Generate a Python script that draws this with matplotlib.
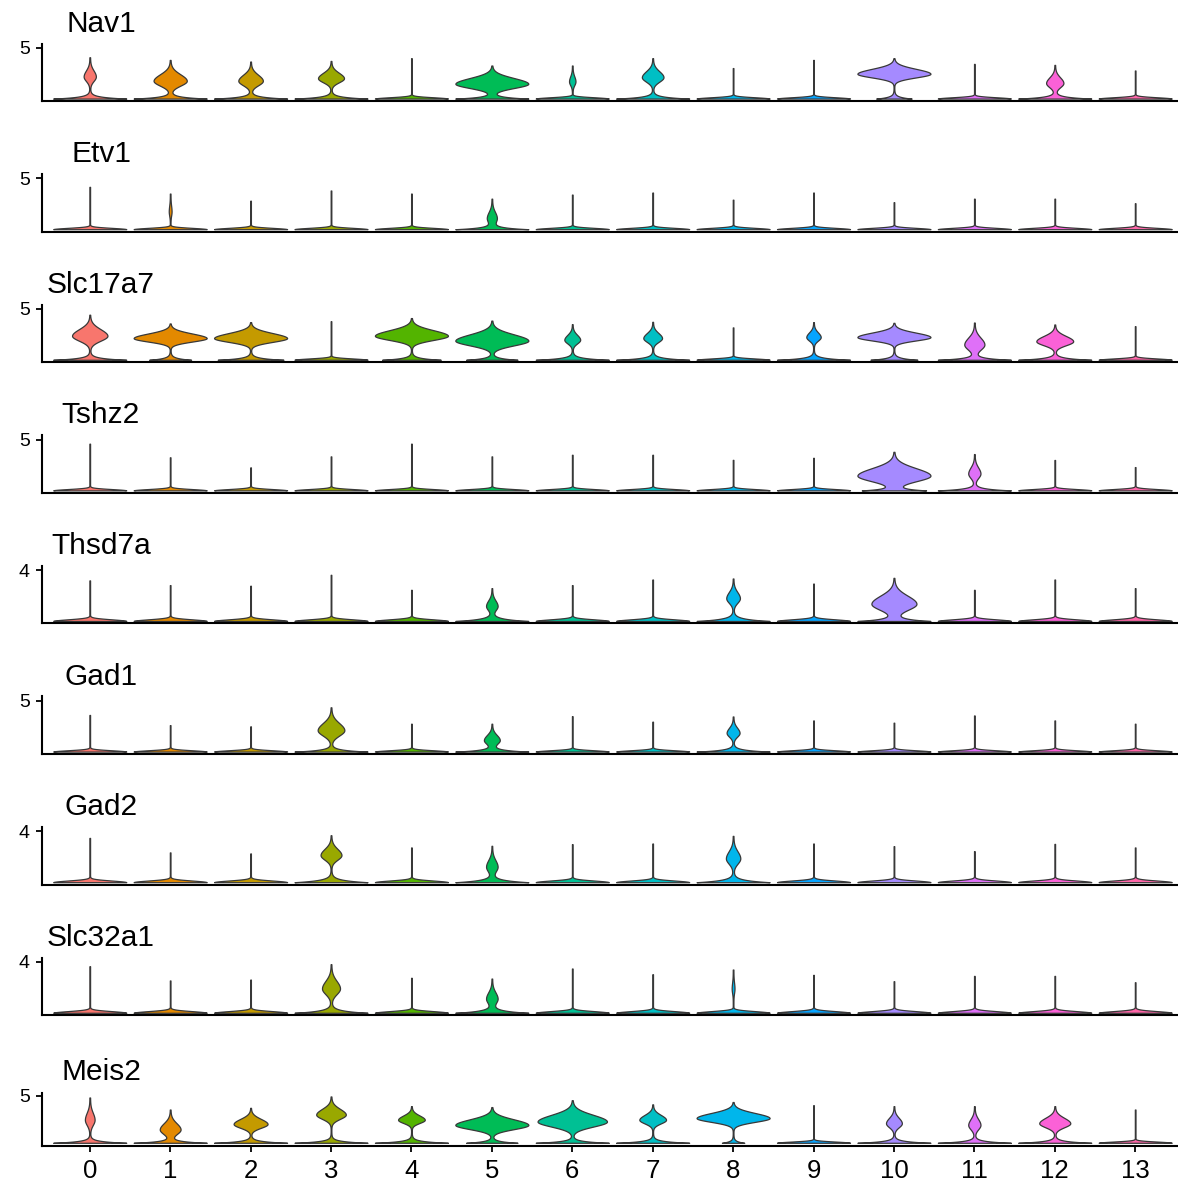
import numpy as np
import matplotlib
matplotlib.use("Agg")
import matplotlib.pyplot as plt

# clusters on the x axis, genes stacked top to bottom
clusters = [str(i) for i in range(14)]
genes = ["Nav1", "Etv1", "Slc17a7", "Tshz2", "Thsd7a", "Gad1", "Gad2", "Slc32a1", "Meis2"]
y_tick = [5, 5, 5, 5, 4, 5, 4, 4, 5]

# highest expression value per cluster (top of each violin)
vln_top = [
    [4.06, 3.80, 3.64, 3.70, 3.97, 3.25, 3.25, 3.97, 3.00, 3.80, 3.97, 3.41, 3.31, 2.76],  # Nav1
    [4.16, 3.50, 2.80, 3.80, 3.50, 3.00, 3.40, 3.60, 2.90, 3.60, 2.65, 3.00, 3.00, 2.55],  # Etv1
    [4.43, 3.57, 3.70, 3.79, 4.10, 3.85, 3.50, 3.73, 3.18, 3.70, 3.63, 3.66, 3.47, 3.30],  # Slc17a7
    [4.59, 3.25, 2.26, 3.34, 4.59, 3.34, 3.50, 3.50, 3.00, 3.20, 3.79, 3.57, 2.99, 2.29],  # Tshz2
    [3.19, 2.82, 2.77, 3.63, 2.45, 2.58, 2.82, 3.26, 3.34, 2.94, 3.39, 2.45, 3.26, 2.58],  # Thsd7a
    [3.60, 2.60, 2.48, 4.35, 2.74, 2.74, 3.48, 2.94, 3.45, 3.06, 2.84, 3.55, 3.06, 2.74],  # Gad1
    [3.48, 2.34, 2.26, 3.69, 2.73, 2.86, 2.99, 3.04, 3.64, 3.04, 2.83, 2.44, 3.01, 2.73],  # Gad2
    [3.66, 2.54, 2.61, 3.82, 2.75, 2.69, 3.48, 3.03, 3.40, 2.98, 2.48, 2.90, 2.90, 2.40],  # Slc32a1
    [4.82, 3.54, 3.72, 4.93, 3.90, 3.80, 4.53, 4.09, 4.34, 4.00, 3.90, 3.90, 3.90, 3.54],  # Meis2
]

# expression level where the expressing cells pile up (0 = no bulge)
vln_mode = [
    [2.17, 1.75, 1.75, 2.00, 0, 1.46, 1.69, 2.10, 0, 0, 2.44, 0, 1.53, 0],
    [0, 1.75, 0, 0, 0, 1.10, 0, 0, 0, 0, 0, 0, 0, 0],
    [2.36, 2.13, 2.13, 0, 2.36, 1.88, 1.97, 2.13, 0, 2.23, 2.23, 1.50, 1.82, 0],
    [0, 0, 0, 0, 0, 0, 0, 0, 0, 0, 1.45, 1.66, 0, 0],
    [0, 0, 0, 0, 0, 1.18, 0, 0, 1.79, 0, 1.35, 0, 0, 0],
    [0, 0, 0, 2.10, 0, 1.13, 0, 0, 1.84, 0, 0, 0, 0, 0],
    [0, 0, 0, 2.13, 0, 1.22, 0, 0, 1.87, 0, 0, 0, 0, 0],
    [0, 0, 0, 1.91, 0, 1.12, 0, 0, 1.90, 0, 0, 0, 0, 0],
    [2.45, 1.42, 2.00, 3.00, 2.45, 1.90, 2.26, 2.45, 2.63, 0, 2.08, 1.90, 2.08, 0],
]

# relative width of that bulge
vln_bulge = [
    [0.16, 0.45, 0.33, 0.35, 0, 1.0, 0.08, 0.29, 0, 0, 1.0, 0, 0.23, 0],
    [0, 0.03, 0, 0, 0, 0.13, 0, 0, 0, 0, 0, 0, 0, 0],
    [0.48, 1.0, 1.0, 0, 1.0, 1.0, 0.21, 0.25, 0, 0.19, 1.0, 0.27, 0.50, 0],
    [0, 0, 0, 0, 0, 0, 0, 0, 0, 0, 1.0, 0.16, 0, 0],
    [0, 0, 0, 0, 0, 0.15, 0, 0, 0.18, 0, 0.62, 0, 0, 0],
    [0, 0, 0, 0.36, 0, 0.21, 0, 0, 0.17, 0, 0, 0, 0, 0],
    [0, 0, 0, 0.28, 0, 0.15, 0, 0, 0.19, 0, 0, 0, 0, 0],
    [0, 0, 0, 0.24, 0, 0.15, 0, 0, 0.03, 0, 0, 0, 0, 0],
    [0.125, 0.28, 0.46, 0.40, 0.36, 1.0, 0.95, 0.36, 1.0, 0, 0.21, 0.16, 0.42, 0],
]

# relative width of the zero-expression foot
vln_foot = [
    [1, 1, 1, 1, 1, 1, 1, 1, 1, 1, 0.48, 1, 1, 1],
    [1, 1, 1, 1, 1, 1, 1, 1, 1, 1, 1, 1, 1, 1],
    [1, 0.57, 0.9, 1, 0.8, 0.7, 1, 1, 1, 1, 0.64, 1, 1, 1],
    [1, 1, 1, 1, 1, 1, 1, 1, 1, 1, 0.85, 1, 1, 1],
    [1, 1, 1, 1, 1, 1, 1, 1, 1, 1, 1, 1, 1, 1],
    [1, 1, 1, 1, 1, 1, 1, 1, 1, 1, 1, 1, 1, 1],
    [1, 1, 1, 1, 1, 1, 1, 1, 1, 1, 1, 1, 1, 1],
    [1, 1, 1, 1, 1, 1, 1, 1, 1, 1, 1, 1, 1, 1],
    [1, 1, 1, 1, 1, 0.7, 1, 1, 0.3, 1, 1, 1, 1, 1],
]

colors = ["#F8766D", "#E38900", "#C49A00", "#99A800", "#53B400", "#00BC56", "#00C094",
          "#00BFC4", "#00B6EB", "#06A4FF", "#A58AFF", "#DF70F8", "#FB61D7", "#FF66A8"]

plt.rcParams["font.family"] = ["Liberation Sans", "DejaVu Sans"]


def violin(top, mode, bulge, foot):
    # width profile: pile of zeros at the base plus a bump of expressing cells
    y = np.linspace(0, top, 800)
    if bulge > 0.1:
        # wider kernel when many cells express: flared foot
        hw = foot * np.exp(-y / 0.17)
    else:
        hw = foot * np.exp(-0.5 * (y / 0.13) ** 2)
    if bulge > 0:
        up = (top - mode) / 3.2
        sig = np.where(y < mode, 0.75 * up, up)
        hw = hw + bulge * np.exp(-0.5 * ((y - mode) / sig) ** 2)
    hw = 0.45 * hw / hw.max() + 0.004
    return y, hw


W, H = 1178, 1183
fig = plt.figure(figsize=(W / 100, H / 100), dpi=100)
left, right = 41.5, 1177

for i, gene in enumerate(genes):
    last = i == len(genes) - 1
    bot = 101 + 130.6 * i
    h = 52.5 if last else 57.5
    tick_px = 50 if last else 53.3
    zero_px = 3.0 if last else 2.4
    ax = fig.add_axes([left / W, 1 - bot / H, (right - left) / W, h / H])
    t = y_tick[i]
    ppu = (tick_px - zero_px) / t
    ax.set_ylim(-zero_px / ppu, (h - zero_px) / ppu)
    ax.set_xlim(-0.6, 13.52)

    for j in range(len(clusters)):
        y, hw = violin(vln_top[i][j], vln_mode[i][j], vln_bulge[i][j], vln_foot[i][j])
        ax.fill_betweenx(y, j - hw, j + hw, facecolor=colors[j],
                         edgecolor="#383838", linewidth=0.9)

    for s in ["top", "right"]:
        ax.spines[s].set_visible(False)
    for s in ["left", "bottom"]:
        ax.spines[s].set_linewidth(1.5)
        ax.spines[s].set_color("black")
    ax.set_yticks([t])
    ax.tick_params(axis="y", labelsize=14, length=4.5, width=1.3, pad=4)
    if last:
        ax.set_xticks(range(len(clusters)))
        ax.set_xticklabels(clusters)
        ax.tick_params(axis="x", labelsize=18.5, length=4.5, width=1.3, pad=5)
    else:
        ax.set_xticks([])

    fig.text(101 / W, 1 - (bot - tick_px - 16) / H, gene, ha="center",
             va="baseline", fontsize=21.5)

fig.savefig("out.png", dpi=100)
